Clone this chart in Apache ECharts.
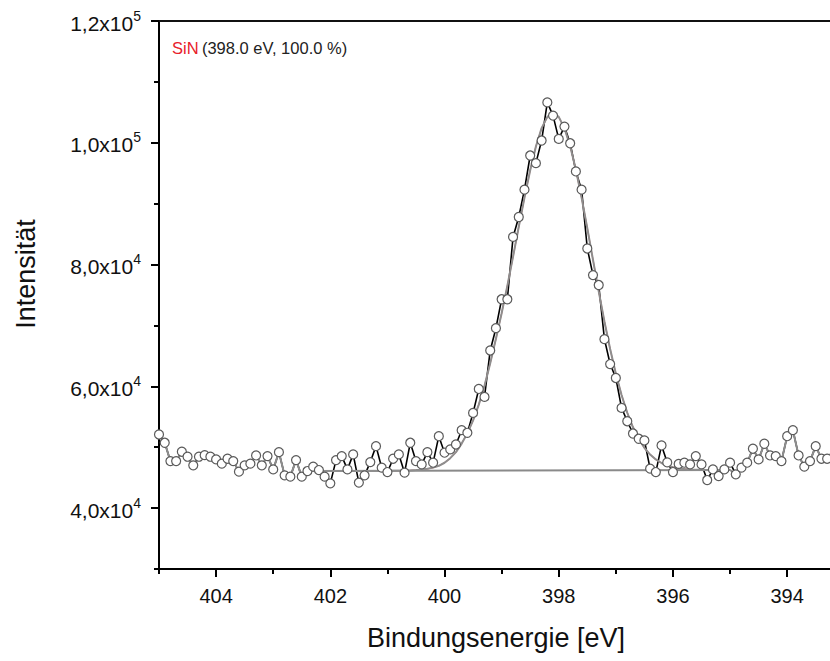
<!DOCTYPE html>
<html>
<head>
<meta charset="utf-8">
<style>
html,body{margin:0;padding:0;background:#fff;}
#chart{width:830px;height:661px;}
</style>
<script src="https://cdn.jsdelivr.net/npm/echarts@6/dist/echarts.min.js"></script>
</head>
<body>
<div id="chart"></div>
<script>
// Binding energy grid of the measured spectrum [eV]
const energies = [
405.0,404.9,404.8,404.7,404.6,404.5,404.4,404.3,404.2,404.1,
404.0,403.9,403.8,403.7,403.6,403.5,403.4,403.3,403.2,403.1,
403.0,402.9,402.8,402.7,402.6,402.5,402.4,402.3,402.2,402.1,
402.0,401.9,401.8,401.7,401.6,401.5,401.4,401.3,401.2,401.1,
401.0,400.9,400.8,400.7,400.6,400.5,400.4,400.3,400.2,400.1,
400.0,399.9,399.8,399.7,399.6,399.5,399.4,399.3,399.2,399.1,
399.0,398.9,398.8,398.7,398.6,398.5,398.4,398.3,398.2,398.1,
398.0,397.9,397.8,397.7,397.6,397.5,397.4,397.3,397.2,397.1,
397.0,396.9,396.8,396.7,396.6,396.5,396.4,396.3,396.2,396.1,
396.0,395.9,395.8,395.7,395.6,395.5,395.4,395.3,395.2,395.1,
395.0,394.9,394.8,394.7,394.6,394.5,394.4,394.3,394.2,394.1,
394.0,393.9,393.8,393.7,393.6,393.5,393.4,393.3,393.2];

// Measured intensity (counts)
const intensity = [
52090,50730,47720,47720,49260,48440,47020,48440,48700,48440,
48000,47300,48110,47720,45990,47020,47300,48650,47020,48540,
46360,49190,45380,45170,47890,45170,46090,46810,46250,45170,
44070,47890,48540,46360,48820,44190,45380,47560,50180,46640,
45920,48110,48820,45820,50730,47720,47180,49190,47460,51810,
49100,49640,50450,52800,52370,55640,59570,58260,65890,69550,
74300,74300,84540,87810,92300,97910,96650,100370,106630,104460,
100640,102660,99920,95290,92300,82640,78270,76640,67750,63660,
61370,56460,54270,52250,51390,51110,46480,45920,50290,47510,
45920,47260,47460,47180,48540,47180,44610,46360,45270,46360,
47460,45550,46640,47460,49750,48000,50570,48650,48540,47720,
51810,52800,48650,46810,47720,50180,48110,48110,49360];

// Fit region: envelope (= SiN component + background)
const fitEnergies = [
402.3,402.2,402.1,402.0,401.9,401.8,401.7,401.6,401.5,401.4,
401.3,401.2,401.1,401.0,400.9,400.8,400.7,400.6,400.5,400.4,
400.3,400.2,400.1,400.0,399.9,399.8,399.7,399.6,399.5,399.4,
399.3,399.2,399.1,399.0,398.9,398.8,398.7,398.6,398.5,398.4,
398.3,398.2,398.1,398.0,397.9,397.8,397.7,397.6,397.5,397.4,
397.3,397.2,397.1,397.0,396.9,396.8,396.7,396.6,396.5,396.4,
396.3,396.2,396.1,396.0,395.9,395.8,395.7,395.6,395.5,395.4,
395.3,395.2,395.1,395.0];
const fitEnvelope = [
46090,46092,46094,46097,46099,46101,46103,46105,46108,46110,
46112,46115,46118,46121,46128,46140,46160,46190,46240,46320,
46450,46650,46950,47450,48200,49200,50600,52300,54400,57000,
60100,63800,67800,72000,76500,81300,86200,91000,95500,99400,
102400,104250,104880,104250,102400,99450,95560,91000,85970,80760,
75590,70660,66120,62080,58580,55660,53270,51370,49900,48800,
47990,47410,47000,46730,46550,46430,46350,46305,46280,46265,
46255,46252,46250,46250];

// Linear background
const baselineEnergies = [402.3, 395.0];
const baselineValues = [46090, 46250];

// Axis ticks
const xMajorTicks = [394, 396, 398, 400, 402, 404];
const xMinorTicks = [395, 397, 399, 401, 403, 405];
const yMajorTicks = [40000, 60000, 80000, 100000, 120000];
const yMinorTicks = [30000, 50000, 70000, 90000, 110000];
const yTickMantissa = ['4,0', '6,0', '8,0', '1,0', '1,2'];
const yTickExponent = ['4', '4', '4', '5', '5'];

const componentName = 'SiN';
const componentInfo = '(398.0 eV, 100.0 %)';
const xTitle = 'Bindungsenergie [eV]';
const yTitle = 'Intensität';

const FONT = '"Liberation Sans", Arial, sans-serif';

const rawPairs = energies.map((e, i) => [e, intensity[i]]);
const fitStart = fitEnergies[0], fitEnd = fitEnergies[fitEnergies.length - 1];
const envelope = [];
energies.forEach((e, i) => { if (e > fitStart + 1e-9) envelope.push([e, intensity[i]]); });
fitEnergies.forEach((e, i) => envelope.push([e, fitEnvelope[i]]));
energies.forEach((e, i) => { if (e < fitEnd - 1e-9) envelope.push([e, intensity[i]]); });
const component = fitEnergies.map((e, i) => [e, fitEnvelope[i]]);
const baseline = baselineEnergies.map((e, i) => [e, baselineValues[i]]);

const XMIN = 393.25, XMAX = 405.0, YMIN = 30000, YMAX = 120000;

const chart = echarts.init(document.getElementById('chart'), null, { renderer: 'svg' });

const option = {
  animation: false,
  backgroundColor: '#fff',
  textStyle: { fontFamily: FONT },
  grid: { left: 159, right: 0, top: 21, bottom: 92, containLabel: false },
  xAxis: [
    {
      type: 'value', min: XMIN, max: XMAX, inverse: true, position: 'bottom',
      axisLine: { show: true, onZero: false, lineStyle: { color: '#000', width: 2 } },
      axisTick: { show: true, customValues: xMajorTicks, length: 8, lineStyle: { color: '#000', width: 2 } },
      axisLabel: { show: true, customValues: xMajorTicks, fontSize: 20, color: '#111', margin: 17, fontFamily: FONT },
      splitLine: { show: false }
    },
    {
      type: 'value', min: XMIN, max: XMAX, inverse: true, position: 'bottom',
      axisLine: { show: false, onZero: false },
      axisTick: { show: true, customValues: xMinorTicks, length: 5, lineStyle: { color: '#000', width: 2 } },
      axisLabel: { show: false },
      splitLine: { show: false }
    },
    {
      type: 'value', min: XMIN, max: XMAX, inverse: true, position: 'top',
      axisLine: { show: true, onZero: false, lineStyle: { color: '#111', width: 2 } },
      axisTick: { show: false }, axisLabel: { show: false }, splitLine: { show: false }
    }
  ],
  yAxis: [
    {
      type: 'value', min: YMIN, max: YMAX, position: 'left',
      axisLine: { show: true, onZero: false, lineStyle: { color: '#000', width: 2 } },
      axisTick: { show: true, customValues: yMajorTicks, length: 8, lineStyle: { color: '#000', width: 2 } },
      axisLabel: {
        show: true, customValues: yMajorTicks, margin: 18, color: '#111', fontFamily: FONT,
        formatter: function (v) {
          const k = yMajorTicks.indexOf(v);
          if (k < 0) return '';
          return '{b|' + yTickMantissa[k] + 'x10}{s|' + yTickExponent[k] + '}';
        },
        rich: {
          b: { fontSize: 21, lineHeight: 25, color: '#111', fontFamily: FONT, verticalAlign: 'bottom' },
          s: { fontSize: 14, lineHeight: 25, color: '#111', fontFamily: FONT, verticalAlign: 'top', padding: [0, 0, 10, 0] }
        }
      },
      splitLine: { show: false }
    },
    {
      type: 'value', min: YMIN, max: YMAX, position: 'left',
      axisLine: { show: false, onZero: false },
      axisTick: { show: true, customValues: yMinorTicks, length: 5, lineStyle: { color: '#000', width: 2 } },
      axisLabel: { show: false },
      splitLine: { show: false }
    }
  ],
  series: [
    {
      name: 'Messdaten', type: 'line', data: rawPairs, xAxisIndex: 0, yAxisIndex: 0,
      showSymbol: false, symbol: 'none', z: 2,
      lineStyle: { color: '#000', width: 1.6 }
    },
    {
      name: componentName, type: 'line', data: component, showSymbol: false, symbol: 'none', z: 3,
      lineStyle: { color: '#e05a5a', width: 1.2 }
    },
    {
      name: 'Untergrund', type: 'line', data: baseline, showSymbol: false, symbol: 'none', z: 3,
      lineStyle: { color: '#8a8a8a', width: 2 }
    },
    {
      name: 'Einhüllende', type: 'line', data: envelope, showSymbol: false, symbol: 'none', z: 4,
      lineStyle: { color: '#8e8e8e', width: 2 }
    },
    {
      name: 'Punkte', type: 'scatter', data: rawPairs, symbol: 'circle', symbolSize: 9, z: 10,
      itemStyle: { color: '#fff', borderColor: '#5a5a5a', borderWidth: 1.2, opacity: 1 }
    }
  ],
  graphic: [
    {
      type: 'text', x: 172, y: 48,
      style: {
        text: '{r|' + componentName + '} {k|' + componentInfo + '}',
        verticalAlign: 'middle',
        rich: {
          r: { fill: '#e8202a', fontSize: 16.5, fontFamily: FONT },
          k: { fill: '#222', fontSize: 16.5, fontFamily: FONT }
        }
      }
    },
    {
      type: 'text', x: 496, y: 638,
      style: { text: xTitle, fill: '#111', fontSize: 27, fontFamily: FONT, align: 'center', verticalAlign: 'middle' }
    },
    {
      type: 'text', x: 26, y: 274, rotation: Math.PI / 2,
      style: { text: yTitle, fill: '#111', fontSize: 27, fontFamily: FONT, align: 'center', verticalAlign: 'middle' }
    }
  ]
};
chart.setOption(option);
</script>
</body>
</html>
